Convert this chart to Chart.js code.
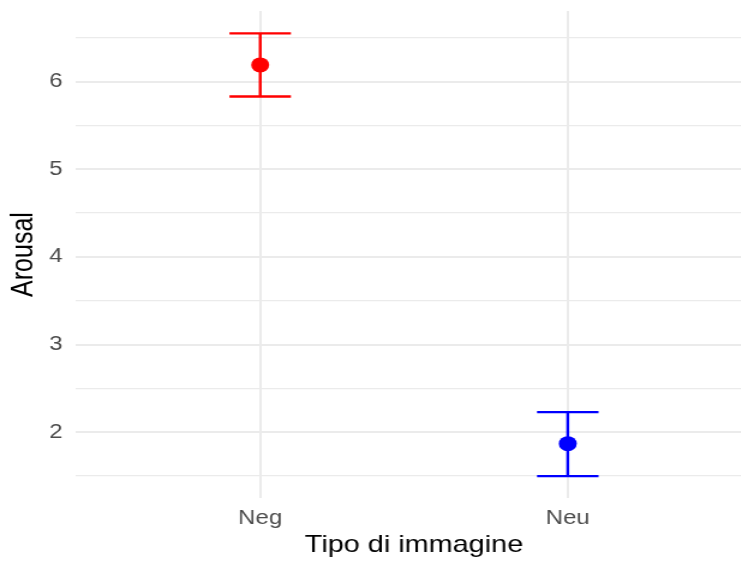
<!DOCTYPE html>
<html>
<head>
<meta charset="utf-8">
<script src="https://cdn.jsdelivr.net/npm/chart.js@4.4.1/dist/chart.umd.min.js"></script>
<style>
  html, body { margin: 0; padding: 0; background: #fff; overflow: hidden; }
  #wrap { width: 741px; height: 563px; overflow: hidden; }
  /* the reference is a horizontally stretched export, so the canvas is stretched too */
  #grafico { display: block; width: 753.6px; height: 563px; }
</style>
</head>
<body>
<div id="wrap">
  <canvas id="grafico" width="628" height="563" style="width:753.6px;height:563px"></canvas>
</div>
<script>
// dati
const categorie = ["Neg", "Neu"];
const medie = [6.19, 1.87];
const limiteInf = [5.83, 1.50];
const limiteSup = [6.55, 2.23];
const yTicks = [1.5, 2, 2.5, 3, 3.5, 4, 4.5, 5, 5.5, 6, 6.5];
const yLabels = [2, 3, 4, 5, 6];

const colori = ["#ff0000", "#0000ff"];
const grigio = "#ebebeb";
const meta = 0.1; // mezza larghezza del baffo (unità dell'asse x)

document.addEventListener("DOMContentLoaded", function () {
  const ctx = document.getElementById("grafico").getContext("2d");

  // punti medi
  const datasets = [
    {
      label: "media",
      type: "line",
      showLine: false,
      data: medie.map((m, i) => ({ x: i + 1, y: m })),
      pointRadius: 7.5,
      pointHoverRadius: 7.5,
      pointBorderWidth: 0,
      pointBackgroundColor: colori,
      pointBorderColor: colori,
    },
  ];

  // barre d'errore
  categorie.forEach((c, i) => {
    const x = i + 1;
    datasets.push({
      label: "errore " + c,
      type: "line",
      data: [
        { x: x - meta, y: limiteSup[i] },
        { x: x + meta, y: limiteSup[i] },
        { x: x, y: null },
        { x: x, y: limiteSup[i] },
        { x: x, y: limiteInf[i] },
        { x: x, y: null },
        { x: x - meta, y: limiteInf[i] },
        { x: x + meta, y: limiteInf[i] },
      ],
      borderColor: colori[i],
      borderWidth: 2.4,
      pointRadius: 0,
      spanGaps: false,
      tension: 0,
    });
  });

  new Chart(ctx, {
    type: "line",
    data: { datasets: datasets },
    options: {
      responsive: false,
      animation: false,
      layout: {
        autoPadding: false,
        padding: { top: 11, right: 1.4, bottom: 0, left: 0 },
      },
      plugins: {
        legend: { display: false },
        tooltip: { enabled: false },
      },
      events: [],
      scales: {
        x: {
          type: "linear",
          min: 0.4,
          max: 2.6,
          afterBuildTicks: (scale) => {
            scale.ticks = categorie.map((c, i) => ({ value: i + 1 }));
          },
          afterFit: (scale) => {
            scale.height = 65;
            scale.paddingLeft = 0;
            scale.paddingRight = 0;
          },
          ticks: {
            padding: 8,
            color: "#4d4d4d",
            font: { family: "Liberation Sans", size: 20 },
            callback: (v) => categorie[v - 1],
          },
          grid: { color: grigio, lineWidth: 2, drawTicks: false },
          border: { display: false },
          title: {
            display: true,
            text: "Tipo di immagine",
            color: "#000",
            font: { family: "Liberation Sans", size: 24 },
            padding: { top: 0, bottom: 3 },
          },
        },
        y: {
          type: "linear",
          min: 1.25,
          max: 6.805,
          afterBuildTicks: (scale) => {
            scale.ticks = yTicks.map((v) => ({ value: v }));
          },
          afterFit: (scale) => {
            scale.width = 63;
            scale.paddingTop = 0;
            scale.paddingBottom = 0;
          },
          ticks: {
            padding: 11,
            color: "#4d4d4d",
            font: { family: "Liberation Sans", size: 20 },
            callback: (v) => (yLabels.includes(v) ? String(v) : ""),
          },
          grid: {
            color: grigio,
            lineWidth: (c) => (Number.isInteger(c.tick.value) ? 2 : 1.2),
            drawTicks: false,
          },
          border: { display: false },
          title: {
            display: true,
            text: "Arousal",
            color: "#000",
            font: { family: "Liberation Sans", size: 25 },
            padding: { top: 5, bottom: 0 },
          },
        },
      },
    },
  });
});
</script>
</body>
</html>
